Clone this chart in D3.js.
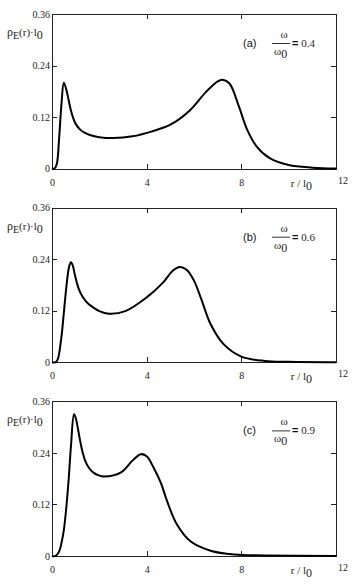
<!DOCTYPE html>
<html>
<head>
    <meta charset="utf-8">
    <title>rho_E(r)</title>
    <style type="text/css">
        body { margin: 0; background: #fff; }
        .axis path, .axis line {
            fill: none;
            stroke: #222;
            shape-rendering: crispEdges;
        }
        .axis text {
            font-family: "Liberation Serif", "Times New Roman", "DejaVu Serif", serif;
            font-size: 10px;
            fill: #222;
        }
        .serif { font-family: "Liberation Serif", "Times New Roman", "DejaVu Serif", serif; fill: #222; }
        .sans { font-family: "Liberation Sans", Arial, sans-serif; fill: #111; }
    </style>
</head>
<body>
<svg id="chart" width="359" height="584"></svg>
<script src="https://cdnjs.cloudflare.com/ajax/libs/d3/7.8.5/d3.min.js"></script>
<script type="text/javascript">
    /*=========DATA=========*/
    var yTicks = [0, 0.12, 0.24, 0.36];
    var xTicks = [0, 4, 8];
    var xMaxLabel = '12';
    var panelTags = ['(a)', '(b)', '(c)'];
    var omegaRatios = ['0.4', '0.6', '0.9'];

    // (a) omega/omega0 = 0.4
    var rA   = [0, 0.1, 0.2, 0.3, 0.4, 0.5, 0.6, 0.7, 0.8, 0.9, 1.0, 1.2, 1.4, 1.6, 2.0, 2.6, 3.4, 4.2, 5.0, 5.8, 6.5, 7.0, 7.2, 7.5, 7.9, 8.25, 8.65, 9.2, 10.0, 11.0, 12];
    var rhoA = [0, 0, 0.01, 0.07, 0.15, 0.2, 0.185, 0.16, 0.135, 0.117, 0.104, 0.09, 0.083, 0.078, 0.073, 0.071, 0.075, 0.086, 0.102, 0.134, 0.178, 0.203, 0.207, 0.198, 0.144, 0.09, 0.051, 0.024, 0.008, 0.002, 0];

    // (b) omega/omega0 = 0.6
    var rB   = [0, 0.15, 0.25, 0.4, 0.5, 0.62, 0.72, 0.8, 0.88, 0.96, 1.05, 1.15, 1.3, 1.5, 1.75, 2.0, 2.4, 3.1, 4.0, 4.7, 5.1, 5.4, 5.7, 6.0, 6.3, 6.7, 7.25, 8.0, 9.0, 10.0, 12];
    var rhoB = [0, 0, 0.008, 0.06, 0.115, 0.182, 0.222, 0.233, 0.225, 0.205, 0.185, 0.168, 0.152, 0.138, 0.127, 0.119, 0.113, 0.119, 0.151, 0.186, 0.213, 0.222, 0.215, 0.19, 0.148, 0.089, 0.042, 0.013, 0.003, 0.001, 0];

    // (c) omega/omega0 = 0.9
    var rC   = [0, 0.15, 0.3, 0.4, 0.5, 0.6, 0.7, 0.8, 0.93, 1.0, 1.1, 1.2, 1.3, 1.4, 1.55, 1.75, 2.0, 2.2, 2.9, 3.4, 3.75, 4.0, 4.3, 4.6, 4.86, 5.28, 5.85, 6.7, 7.7, 9.0, 12];
    var rhoC = [0, 0, 0.01, 0.03, 0.06, 0.11, 0.175, 0.255, 0.33, 0.322, 0.295, 0.265, 0.24, 0.222, 0.206, 0.194, 0.187, 0.185, 0.194, 0.222, 0.237, 0.232, 0.205, 0.17, 0.128, 0.073, 0.034, 0.012, 0.003, 0.001, 0];

    var panels = [
        { r: rA, rho: rhoA },
        { r: rB, rho: rhoB },
        { r: rC, rho: rhoC }
    ];

    /*=========SIZE=========*/
    var left = 52, right = 336;
    var firstTop = 14, panelStep = 193.7, plotH = 154.5;

    var svg = d3.select('#chart');
    var x = d3.scaleLinear().domain([0, 12]).range([0, right - left]);
    var y = d3.scaleLinear().domain([0, 0.36]).range([plotH, 0]);
    var yFmt = function (d) { return d === 0 ? '0' : d.toFixed(2); };

    var line = d3.line()
        .x(function (d) { return x(d[0]); })
        .y(function (d) { return y(d[1]); })
        .curve(d3.curveCatmullRom.alpha(0.5));

    panels.forEach(function (p, i) {
        var g = svg.append('g')
            .attr('transform', 'translate(' + left + ',' + (firstTop + i * panelStep) + ')');

        // bottom
        g.append('g').attr('class', 'axis')
            .attr('transform', 'translate(0,' + plotH + ')')
            .call(d3.axisBottom(x).tickValues(xTicks).tickSize(-5).tickSizeOuter(0).tickPadding(10));
        // top
        g.append('g').attr('class', 'axis')
            .call(d3.axisTop(x).tickValues([4, 8]).tickSize(-5).tickSizeOuter(0).tickFormat(''));
        // left
        g.append('g').attr('class', 'axis')
            .call(d3.axisLeft(y).tickValues(yTicks).tickSize(-5).tickSizeOuter(0).tickPadding(2).tickFormat(yFmt));
        // right
        g.append('g').attr('class', 'axis')
            .attr('transform', 'translate(' + x(12) + ',0)')
            .call(d3.axisRight(y).tickValues([0.12, 0.24]).tickSize(-5).tickSizeOuter(0).tickFormat(''));
        g.selectAll('.axis').attr('font-family', null);

        // 12 label and r / l0
        g.append('text').attr('class', 'serif')
            .attr('x', x(12) + 2).attr('y', plotH + 15)
            .attr('font-size', 10).text(xMaxLabel);
        var xl = g.append('text').attr('class', 'serif')
            .attr('x', x(12) - 24).attr('y', plotH + 18)
            .attr('text-anchor', 'end').attr('font-size', 11);
        xl.append('tspan').text('r / l');
        xl.append('tspan').attr('dy', 3).attr('font-size', 12).text('0');

        // y title
        var yl = g.append('text').attr('class', 'serif')
            .attr('x', 7 - left).attr('y', 22)
            .attr('font-size', 12);
        yl.append('tspan').text('ρ');
        yl.append('tspan').attr('dy', 3).attr('font-size', 10).text('E');
        yl.append('tspan').attr('dy', -3).attr('font-size', 11).text('(r)·l');
        yl.append('tspan').attr('dy', 3).attr('font-size', 12).text('0');

        // legend
        g.append('text').attr('class', 'sans')
            .attr('x', 243 - left).attr('y', 33)
            .attr('font-size', 11).text(panelTags[i]);
        g.append('text').attr('class', 'serif')
            .attr('x', 284 - left).attr('y', 24)
            .attr('text-anchor', 'middle').attr('font-size', 11).text('ω');
        g.append('line')
            .attr('x1', 272 - left).attr('x2', 290 - left)
            .attr('y1', 29.5).attr('y2', 29.5)
            .attr('stroke', '#333').attr('stroke-width', 1);
        var w0 = g.append('text').attr('class', 'serif')
            .attr('x', 274 - left).attr('y', 41)
            .attr('font-size', 11);
        w0.append('tspan').text('ω');
        w0.append('tspan').attr('dy', 3).attr('font-size', 12).text('0');
        var eq = g.append('text').attr('x', 292 - left).attr('y', 33);
        eq.append('tspan').attr('class', 'sans').attr('font-size', 11).attr('font-weight', 'bold').text('=');
        eq.append('tspan').attr('class', 'serif').attr('font-size', 11).text(' ' + omegaRatios[i]);

        // curve
        var pts = p.r.map(function (r, k) { return [r, p.rho[k]]; });
        g.append('path')
            .attr('d', line(pts))
            .attr('fill', 'none')
            .attr('stroke', '#000')
            .attr('stroke-width', 2)
            .attr('stroke-linejoin', 'round');
    });
</script>
</body>
</html>
